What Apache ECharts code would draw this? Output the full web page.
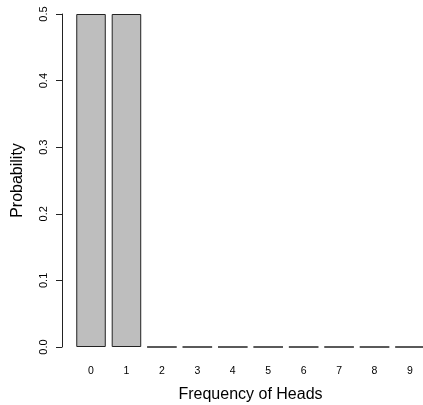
<!DOCTYPE html>
<html>
<head>
    <meta charset="utf-8">
    <title>Frequency of Heads</title>
    <script src="https://cdn.jsdelivr.net/npm/echarts/dist/echarts.min.js"></script>
</head>
<body style="margin:0;background:#fff;">
<div id="chart-container" style="width: 423px; height: 405px;"></div>
<script>
    // number of heads
    var heads = ['0', '1', '2', '3', '4', '5', '6', '7', '8', '9'];
    // probability for each count
    var probability = [0.5, 0.5, 0, 0, 0, 0, 0, 0, 0, 0];
    // y tick labels
    var yTicks = ['0.0', '0.1', '0.2', '0.3', '0.4', '0.5'];

    var font = '"Liberation Sans", Arial, sans-serif';

    var option = {
        animation: false,
        backgroundColor: '#ffffff',
        grid: {
            left: 73.3,
            right: -4.7,
            top: 14,
            bottom: 58,
            outerBoundsMode: 'none'
        },
        xAxis: {
            type: 'category',
            data: heads,
            axisLine: { show: false },
            axisTick: { show: false },
            axisLabel: {
                color: '#000',
                fontFamily: font,
                fontSize: 10.5,
                margin: 19
            },
            name: 'Frequency of Heads',
            nameLocation: 'middle',
            nameGap: 40,
            nameTextStyle: {
                color: '#000',
                fontFamily: font,
                fontSize: 16
            }
        },
        yAxis: {
            type: 'value',
            min: 0,
            max: 0.5,
            interval: 0.1,
            offset: 11.3,
            axisLine: {
                show: true,
                lineStyle: { color: '#222', width: 1 }
            },
            axisTick: {
                show: true,
                length: 6,
                lineStyle: { color: '#222' }
            },
            splitLine: { show: false },
            axisLabel: {
                color: '#000',
                fontFamily: font,
                fontSize: 11,
                rotate: 90,
                margin: 13,
                formatter: function (v) {
                    return yTicks[Math.round(v * 10)];
                }
            },
            name: 'Probability',
            nameLocation: 'middle',
            nameGap: 36,
            nameRotate: 90,
            nameTextStyle: {
                color: '#000',
                fontFamily: font,
                fontSize: 16
            }
        },
        series: [{
            type: 'bar',
            data: probability,
            barCategoryGap: '16.7%',
            itemStyle: {
                color: '#bebebe',
                borderColor: '#222',
                borderWidth: 1
            }
        }]
    };

    var chart = echarts.init(document.getElementById('chart-container'));
    chart.setOption(option);
</script>
</body>
</html>
